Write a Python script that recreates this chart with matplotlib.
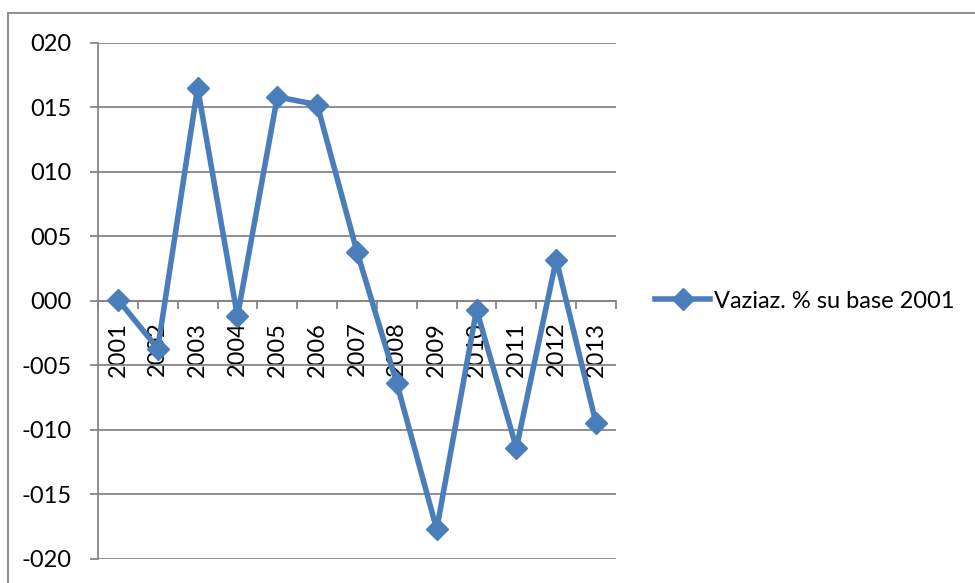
import matplotlib
matplotlib.use('Agg')
import matplotlib.pyplot as plt
from matplotlib.lines import Line2D
from matplotlib.ticker import FixedLocator, FuncFormatter, MultipleLocator

plt.rcParams['font.family'] = ['Lato', 'DejaVu Sans']

# dati
years = ['2001', '2002', '2003', '2004', '2005', '2006', '2007',
         '2008', '2009', '2010', '2011', '2012', '2013']
values = [0.1, -3.7, 16.5, -1.2, 15.8, 15.2, 3.8, -6.4, -17.7, -0.7, -11.4, 3.2, -9.5]
series_name = 'Vaziaz. % su base 2001'

blue = '#4A7EBB'
grey = '#868686'
fs = 17

fig = plt.figure(figsize=(9.75, 5.83), dpi=100)
ax = fig.add_axes([0.1005, 0.0412, 0.5313, 0.8856])

x = list(range(len(years)))
ax.plot(x, values, color=blue, linewidth=4, marker='D', markersize=11,
        label=series_name, zorder=3, clip_on=False)

ax.set_xlim(-0.5, len(years) - 0.5)
ax.set_ylim(-20, 20)

# asse y
ax.yaxis.set_major_locator(MultipleLocator(5))
ax.yaxis.set_major_formatter(FuncFormatter(
    lambda v, p: f"{int(round(v)):03d}" if v >= 0 else f"{int(round(v)):04d}"))
ax.tick_params(axis='y', length=6, width=1.3, color=grey, pad=13, labelsize=fs)
ax.grid(axis='y', color=grey, linewidth=1.3)
ax.set_axisbelow(True)

# asse x sullo zero
ax.spines['bottom'].set_position(('data', 0))
ax.set_xticks(x)
ax.set_xticklabels(years, rotation=90, va='top', ha='center')
ax.xaxis.set_minor_locator(FixedLocator([i - 0.5 for i in range(len(years) + 1)]))
ax.tick_params(axis='x', which='major', length=0, pad=15, labelsize=fs)
ax.tick_params(axis='x', which='minor', length=6, width=1.3, color=grey, direction='out')

for s in ['top', 'right']:
    ax.spines[s].set_visible(False)
for s in ['left', 'bottom']:
    ax.spines[s].set_color(grey)
    ax.spines[s].set_linewidth(1.3)

# legenda
fig.legend(loc='center left', bbox_to_anchor=(655 / 975, 1 - 301 / 583),
           frameon=False, borderpad=0, borderaxespad=0, handlelength=2.35,
           handletextpad=0.15, fontsize=fs)

# bordo esterno del grafico
fig.add_artist(Line2D([7.5 / 975, 7.5 / 975], [1 - 13.3 / 583, -0.1],
                      transform=fig.transFigure, color=grey, linewidth=1.3))
fig.add_artist(Line2D([7.5 / 975, 1.1], [1 - 13.3 / 583, 1 - 13.3 / 583],
                      transform=fig.transFigure, color=grey, linewidth=1.3))

fig.savefig('out.png', dpi=100)
